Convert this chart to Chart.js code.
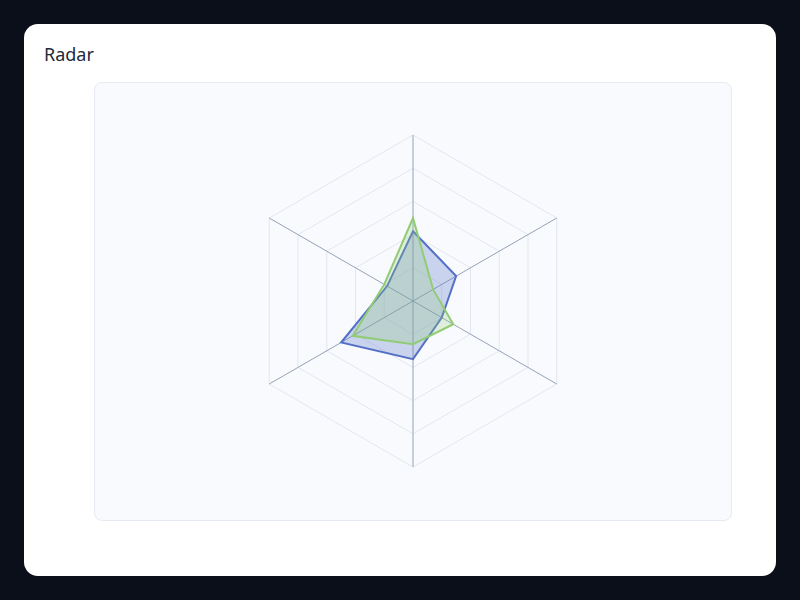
<!DOCTYPE html>
<html>
<head>
<meta charset="utf-8">
<script src="https://cdn.jsdelivr.net/npm/chart.js@4/dist/chart.umd.min.js"></script>
<style>
  html, body { margin: 0; padding: 0; background: #0b0f1a; }
  body { width: 800px; height: 600px; position: relative; overflow: hidden; font-family: "Noto Sans", "Open Sans", sans-serif; }
  .card { position: absolute; left: 24px; top: 24px; width: 752px; height: 552px; background: #fff; border-radius: 14px; }
  .title { position: absolute; left: 20px; top: 18px; font-size: 18px; color: #1e293b; }
  .panel { position: absolute; left: 70px; top: 58px; width: 636px; height: 437px; background: #f8fafd; border: 1px solid #e6eaf1; border-radius: 8px; }
  canvas { display: block; }
</style>
</head>
<body>
<div class="card">
  <div class="title">Radar</div>
  <div class="panel"><canvas id="radar" width="636" height="437"></canvas></div>
</div>
<script>
// six axes, clockwise from the top
const axes = ["A", "B", "C", "D", "E", "F"];
const seriesA = [42, 30, 20, 35, 50, 18];
const seriesB = [50, 14, 28, 26, 42, 20];
const scaleMax = 100;
const scaleStep = 20;

new Chart(document.getElementById("radar"), {
    type: "radar",
    data: {
        labels: axes,
        datasets: [
            {
                label: "Series A",
                data: seriesA,
                borderColor: "#5470c6",
                backgroundColor: "rgba(84,112,198,0.28)",
                borderWidth: 2,
                pointRadius: 0,
                fill: true,
                order: 1
            },
            {
                label: "Series B",
                data: seriesB,
                borderColor: "#91cc75",
                backgroundColor: "rgba(145,204,117,0.25)",
                borderWidth: 2,
                pointRadius: 0,
                fill: true,
                order: 0
            }
        ]
    },
    options: {
        responsive: false,
        animation: false,
        layout: { padding: { top: 52, bottom: 52 } },
        plugins: { legend: { display: false }, tooltip: { enabled: false } },
        scales: {
            r: {
                min: 0,
                max: scaleMax,
                ticks: { display: false, stepSize: scaleStep },
                pointLabels: { display: false },
                grid: { color: "#e2e7ef", lineWidth: 1 },
                angleLines: { color: "#94a2b8", lineWidth: 1 }
            }
        }
    }
});
</script>
</body>
</html>
